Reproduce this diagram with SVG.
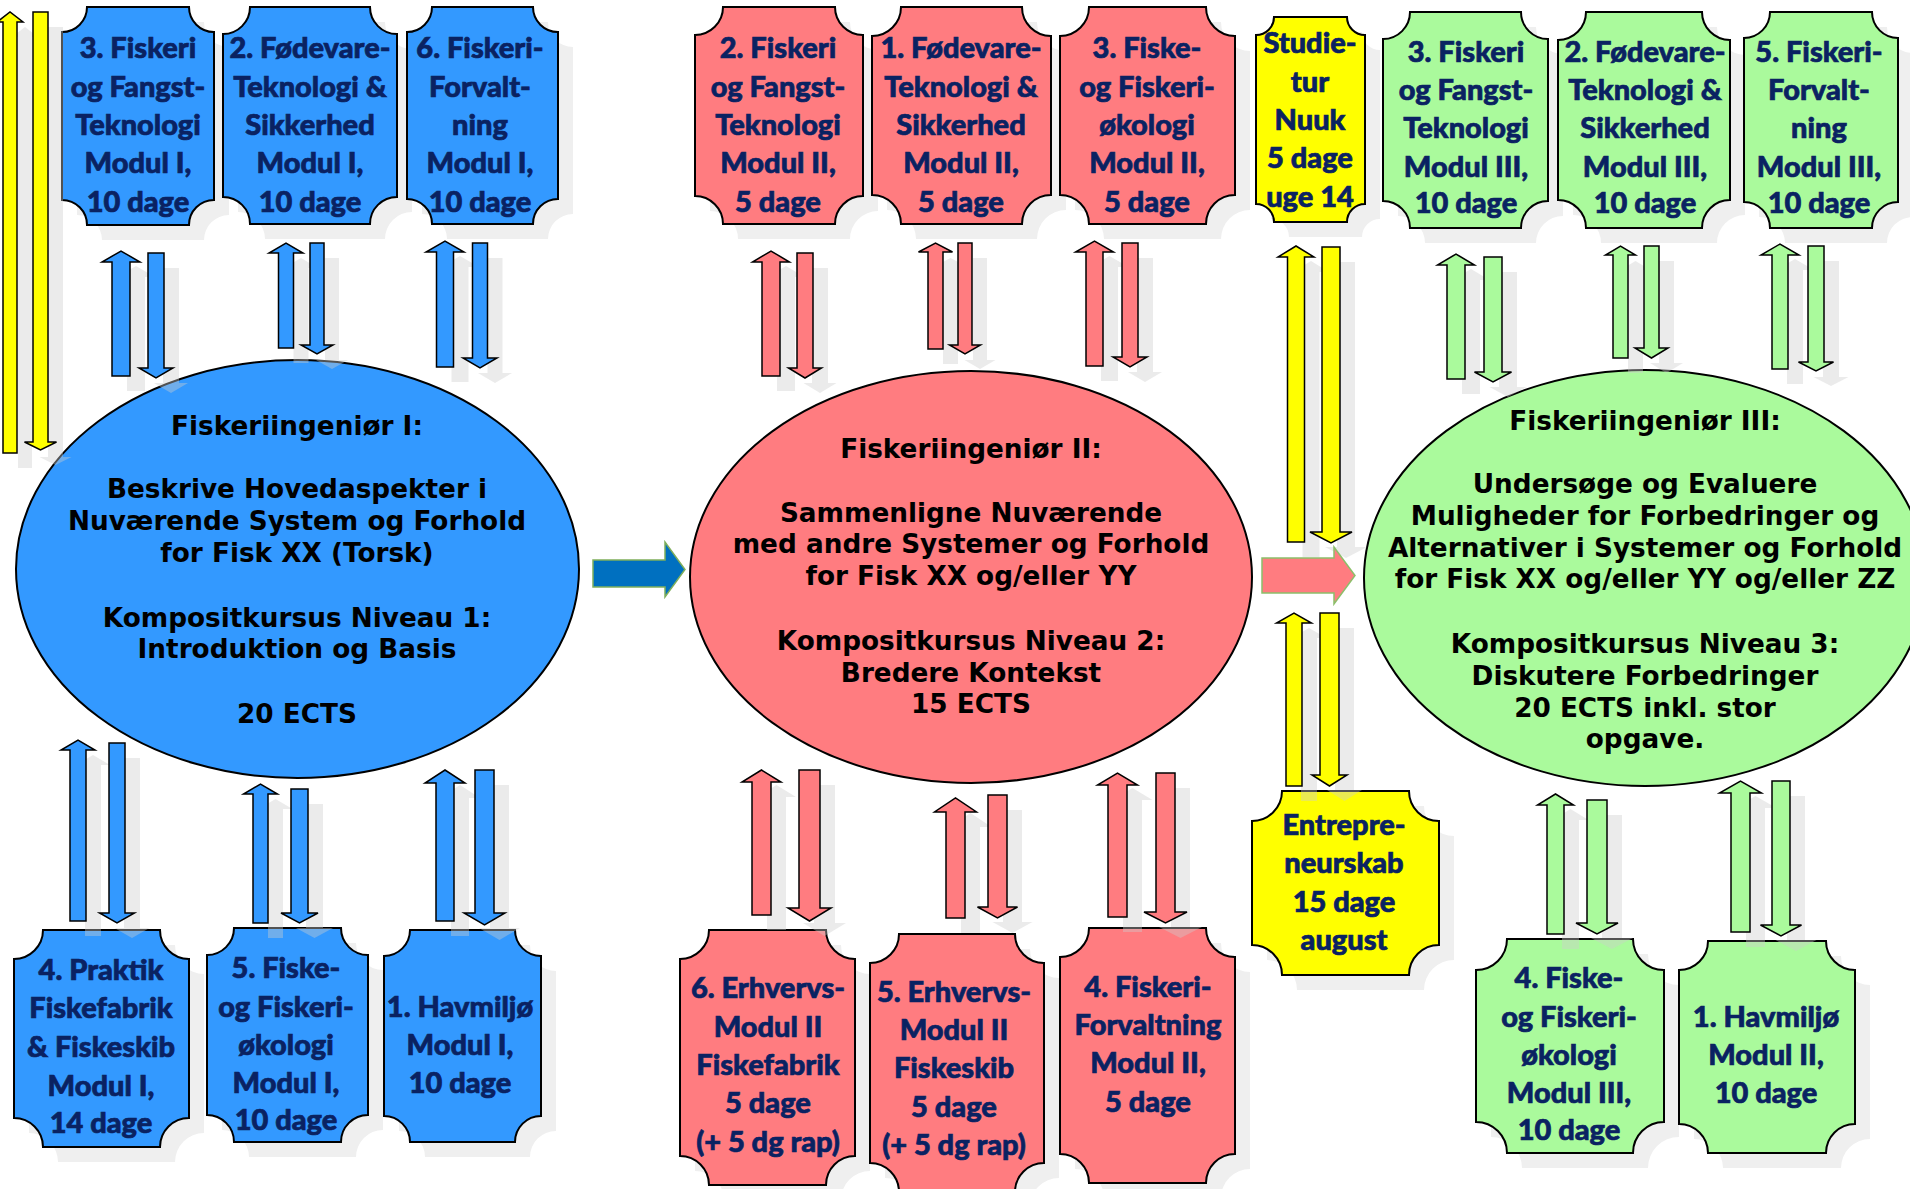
<svg xmlns="http://www.w3.org/2000/svg" width="1910" height="1189" viewBox="0 0 1910 1189">
<style>
.pb{fill:#3399ff;stroke:#000;stroke-width:2}
.pr{fill:#ff7c80;stroke:#000;stroke-width:2}
.pg{fill:#aafa9c;stroke:#000;stroke-width:2}
.py{fill:#ffff00;stroke:#000;stroke-width:2}
.sh{fill:#efefef}
.ash{fill:#cccccc;fill-opacity:0.4}
.ab{fill:#3399ff;stroke:#000;stroke-width:1.5}
.ar{fill:#ff7c80;stroke:#000;stroke-width:1.5}
.ag{fill:#aafa9c;stroke:#000;stroke-width:1.5}
.ay{fill:#ffff00;stroke:#000;stroke-width:1.5}
.pt{font-family:Lato,"Liberation Sans",sans-serif;font-weight:900;font-size:29px;fill:#0a2262;stroke:#0a2262;stroke-width:0.7;text-anchor:middle}
.et{font-family:"DejaVu Sans","Liberation Sans",sans-serif;font-weight:700;font-size:26.3px;fill:#000;text-anchor:middle}
</style>
<rect width="1910" height="1189" fill="#fff"/>

<g id="tb1">
<path class="sh" transform="translate(15,15)" d="M87,7 H189 A25,25 0 0 0 214,32 V200 A25,25 0 0 0 189,225 H87 A25,25 0 0 0 62,200 V32 A25,25 0 0 0 87,7 Z"/>
<path class="pb" d="M87,7 H189 A25,25 0 0 0 214,32 V200 A25,25 0 0 0 189,225 H87 A25,25 0 0 0 62,200 V32 A25,25 0 0 0 87,7 Z"/>
<text class="pt"><tspan x="138" y="58">3. Fiskeri</tspan><tspan x="138" y="97">og Fangst-</tspan><tspan x="138" y="135">Teknologi</tspan><tspan x="138" y="173">Modul I,</tspan><tspan x="138" y="212">10 dage</tspan></text>
</g>
<g id="tb2">
<path class="sh" transform="translate(15,15)" d="M250,7 H370 A27,27 0 0 0 397,34 V197 A27,27 0 0 0 370,224 H250 A27,27 0 0 0 223,197 V34 A27,27 0 0 0 250,7 Z"/>
<path class="pb" d="M250,7 H370 A27,27 0 0 0 397,34 V197 A27,27 0 0 0 370,224 H250 A27,27 0 0 0 223,197 V34 A27,27 0 0 0 250,7 Z"/>
<text class="pt"><tspan x="310" y="58">2. Fødevare-</tspan><tspan x="310" y="97">Teknologi &amp;</tspan><tspan x="310" y="135">Sikkerhed</tspan><tspan x="310" y="173">Modul I,</tspan><tspan x="310" y="212">10 dage</tspan></text>
</g>
<g id="tb3">
<path class="sh" transform="translate(15,15)" d="M432,7 H533 A25,25 0 0 0 558,32 V199 A25,25 0 0 0 533,224 H432 A25,25 0 0 0 407,199 V32 A25,25 0 0 0 432,7 Z"/>
<path class="pb" d="M432,7 H533 A25,25 0 0 0 558,32 V199 A25,25 0 0 0 533,224 H432 A25,25 0 0 0 407,199 V32 A25,25 0 0 0 432,7 Z"/>
<text class="pt"><tspan x="480" y="58">6. Fiskeri-</tspan><tspan x="480" y="97">Forvalt-</tspan><tspan x="480" y="135">ning</tspan><tspan x="480" y="173">Modul I,</tspan><tspan x="480" y="212">10 dage</tspan></text>
</g>

<g id="bb1">
<path class="sh" transform="translate(15,15)" d="M43,930 H160 A29,29 0 0 0 189,959 V1118 A29,29 0 0 0 160,1147 H43 A29,29 0 0 0 14,1118 V959 A29,29 0 0 0 43,930 Z"/>
<path class="pb" d="M43,930 H160 A29,29 0 0 0 189,959 V1118 A29,29 0 0 0 160,1147 H43 A29,29 0 0 0 14,1118 V959 A29,29 0 0 0 43,930 Z"/>
<text class="pt"><tspan x="101" y="980">4. Praktik</tspan><tspan x="101" y="1018">Fiskefabrik</tspan><tspan x="101" y="1057">&amp; Fiskeskib</tspan><tspan x="101" y="1096">Modul I,</tspan><tspan x="101" y="1133">14 dage</tspan></text>
</g>
<g id="bb2">
<path class="sh" transform="translate(15,15)" d="M234,928 H341 A27,27 0 0 0 368,955 V1115 A27,27 0 0 0 341,1142 H234 A27,27 0 0 0 207,1115 V955 A27,27 0 0 0 234,928 Z"/>
<path class="pb" d="M234,928 H341 A27,27 0 0 0 368,955 V1115 A27,27 0 0 0 341,1142 H234 A27,27 0 0 0 207,1115 V955 A27,27 0 0 0 234,928 Z"/>
<text class="pt"><tspan x="286" y="978">5. Fiske-</tspan><tspan x="286" y="1017">og Fiskeri-</tspan><tspan x="286" y="1055">økologi</tspan><tspan x="286" y="1093">Modul I,</tspan><tspan x="286" y="1130">10 dage</tspan></text>
</g>
<g id="bb3">
<path class="sh" transform="translate(15,15)" d="M410,930 H515 A26,26 0 0 0 541,956 V1116 A26,26 0 0 0 515,1142 H410 A26,26 0 0 0 384,1116 V956 A26,26 0 0 0 410,930 Z"/>
<path class="pb" d="M410,930 H515 A26,26 0 0 0 541,956 V1116 A26,26 0 0 0 515,1142 H410 A26,26 0 0 0 384,1116 V956 A26,26 0 0 0 410,930 Z"/>
<text class="pt"><tspan x="460" y="1017">1. Havmiljø</tspan><tspan x="460" y="1055">Modul I,</tspan><tspan x="460" y="1093">10 dage</tspan></text>
</g>

<g id="tr1">
<path class="sh" transform="translate(15,15)" d="M723,7 H835 A28,28 0 0 0 863,35 V196 A28,28 0 0 0 835,224 H723 A28,28 0 0 0 695,196 V35 A28,28 0 0 0 723,7 Z"/>
<path class="pr" d="M723,7 H835 A28,28 0 0 0 863,35 V196 A28,28 0 0 0 835,224 H723 A28,28 0 0 0 695,196 V35 A28,28 0 0 0 723,7 Z"/>
<text class="pt"><tspan x="778" y="58">2. Fiskeri</tspan><tspan x="778" y="97">og Fangst-</tspan><tspan x="778" y="135">Teknologi</tspan><tspan x="778" y="173">Modul II,</tspan><tspan x="778" y="212">5 dage</tspan></text>
</g>
<g id="tr2">
<path class="sh" transform="translate(15,15)" d="M901,7 H1022 A29,29 0 0 0 1051,36 V195 A29,29 0 0 0 1022,224 H901 A29,29 0 0 0 872,195 V36 A29,29 0 0 0 901,7 Z"/>
<path class="pr" d="M901,7 H1022 A29,29 0 0 0 1051,36 V195 A29,29 0 0 0 1022,224 H901 A29,29 0 0 0 872,195 V36 A29,29 0 0 0 901,7 Z"/>
<text class="pt"><tspan x="961" y="58">1. Fødevare-</tspan><tspan x="961" y="97">Teknologi &amp;</tspan><tspan x="961" y="135">Sikkerhed</tspan><tspan x="961" y="173">Modul II,</tspan><tspan x="961" y="212">5 dage</tspan></text>
</g>
<g id="tr3">
<path class="sh" transform="translate(15,15)" d="M1089,7 H1206 A29,29 0 0 0 1235,36 V195 A29,29 0 0 0 1206,224 H1089 A29,29 0 0 0 1060,195 V36 A29,29 0 0 0 1089,7 Z"/>
<path class="pr" d="M1089,7 H1206 A29,29 0 0 0 1235,36 V195 A29,29 0 0 0 1206,224 H1089 A29,29 0 0 0 1060,195 V36 A29,29 0 0 0 1089,7 Z"/>
<text class="pt"><tspan x="1147" y="58">3. Fiske-</tspan><tspan x="1147" y="97">og Fiskeri-</tspan><tspan x="1147" y="135">økologi</tspan><tspan x="1147" y="173">Modul II,</tspan><tspan x="1147" y="212">5 dage</tspan></text>
</g>

<g id="studietur">
<path class="sh" transform="translate(15,15)" d="M1274,17 H1347 A18,18 0 0 0 1365,35 V204 A18,18 0 0 0 1347,222 H1274 A18,18 0 0 0 1256,204 V35 A18,18 0 0 0 1274,17 Z"/>
<path class="py" d="M1274,17 H1347 A18,18 0 0 0 1365,35 V204 A18,18 0 0 0 1347,222 H1274 A18,18 0 0 0 1256,204 V35 A18,18 0 0 0 1274,17 Z"/>
<text class="pt"><tspan x="1310" y="53">Studie-</tspan><tspan x="1310" y="92">tur</tspan><tspan x="1310" y="130">Nuuk</tspan><tspan x="1310" y="168">5 dage</tspan><tspan x="1310" y="207">uge 14</tspan></text>
</g>

<g id="tg1">
<path class="sh" transform="translate(15,15)" d="M1410,12 H1521 A27,27 0 0 0 1548,39 V201 A27,27 0 0 0 1521,228 H1410 A27,27 0 0 0 1383,201 V39 A27,27 0 0 0 1410,12 Z"/>
<path class="pg" d="M1410,12 H1521 A27,27 0 0 0 1548,39 V201 A27,27 0 0 0 1521,228 H1410 A27,27 0 0 0 1383,201 V39 A27,27 0 0 0 1410,12 Z"/>
<text class="pt"><tspan x="1466" y="62">3. Fiskeri</tspan><tspan x="1466" y="100">og Fangst-</tspan><tspan x="1466" y="138">Teknologi</tspan><tspan x="1466" y="177">Modul III,</tspan><tspan x="1466" y="213">10 dage</tspan></text>
</g>
<g id="tg2">
<path class="sh" transform="translate(15,15)" d="M1586,12 H1702 A28,28 0 0 0 1730,40 V200 A28,28 0 0 0 1702,228 H1586 A28,28 0 0 0 1558,200 V40 A28,28 0 0 0 1586,12 Z"/>
<path class="pg" d="M1586,12 H1702 A28,28 0 0 0 1730,40 V200 A28,28 0 0 0 1702,228 H1586 A28,28 0 0 0 1558,200 V40 A28,28 0 0 0 1586,12 Z"/>
<text class="pt"><tspan x="1645" y="62">2. Fødevare-</tspan><tspan x="1645" y="100">Teknologi &amp;</tspan><tspan x="1645" y="138">Sikkerhed</tspan><tspan x="1645" y="177">Modul III,</tspan><tspan x="1645" y="213">10 dage</tspan></text>
</g>
<g id="tg3">
<path class="sh" transform="translate(15,15)" d="M1770,12 H1872 A26,26 0 0 0 1898,38 V202 A26,26 0 0 0 1872,228 H1770 A26,26 0 0 0 1744,202 V38 A26,26 0 0 0 1770,12 Z"/>
<path class="pg" d="M1770,12 H1872 A26,26 0 0 0 1898,38 V202 A26,26 0 0 0 1872,228 H1770 A26,26 0 0 0 1744,202 V38 A26,26 0 0 0 1770,12 Z"/>
<text class="pt"><tspan x="1819" y="62">5. Fiskeri-</tspan><tspan x="1819" y="100">Forvalt-</tspan><tspan x="1819" y="138">ning</tspan><tspan x="1819" y="177">Modul III,</tspan><tspan x="1819" y="213">10 dage</tspan></text>
</g>

<g id="br1">
<path class="sh" transform="translate(15,15)" d="M709,930 H826 A29,29 0 0 0 855,959 V1156 A29,29 0 0 0 826,1185 H709 A29,29 0 0 0 680,1156 V959 A29,29 0 0 0 709,930 Z"/>
<path class="pr" d="M709,930 H826 A29,29 0 0 0 855,959 V1156 A29,29 0 0 0 826,1185 H709 A29,29 0 0 0 680,1156 V959 A29,29 0 0 0 709,930 Z"/>
<text class="pt"><tspan x="768" y="998">6. Erhvervs-</tspan><tspan x="768" y="1037">Modul II</tspan><tspan x="768" y="1075">Fiskefabrik</tspan><tspan x="768" y="1113">5 dage</tspan><tspan x="768" y="1152">(+ 5 dg rap)</tspan></text>
</g>
<g id="br2">
<path class="sh" transform="translate(15,15)" d="M899,934 H1015 A29,29 0 0 0 1044,963 V1163 A29,29 0 0 0 1015,1192 H899 A29,29 0 0 0 870,1163 V963 A29,29 0 0 0 899,934 Z"/>
<path class="pr" d="M899,934 H1015 A29,29 0 0 0 1044,963 V1163 A29,29 0 0 0 1015,1192 H899 A29,29 0 0 0 870,1163 V963 A29,29 0 0 0 899,934 Z"/>
<text class="pt"><tspan x="954" y="1002">5. Erhvervs-</tspan><tspan x="954" y="1040">Modul II</tspan><tspan x="954" y="1078">Fiskeskib</tspan><tspan x="954" y="1117">5 dage</tspan><tspan x="954" y="1155">(+ 5 dg rap)</tspan></text>
</g>
<g id="br3">
<path class="sh" transform="translate(15,15)" d="M1089,928 H1206 A29,29 0 0 0 1235,957 V1154 A29,29 0 0 0 1206,1183 H1089 A29,29 0 0 0 1060,1154 V957 A29,29 0 0 0 1089,928 Z"/>
<path class="pr" d="M1089,928 H1206 A29,29 0 0 0 1235,957 V1154 A29,29 0 0 0 1206,1183 H1089 A29,29 0 0 0 1060,1154 V957 A29,29 0 0 0 1089,928 Z"/>
<text class="pt"><tspan x="1148" y="997">4. Fiskeri-</tspan><tspan x="1148" y="1035">Forvaltning</tspan><tspan x="1148" y="1073">Modul II,</tspan><tspan x="1148" y="1112">5 dage</tspan></text>
</g>

<g id="entrepreneurskab">
<path class="sh" transform="translate(15,15)" d="M1282,791 H1409 A30,30 0 0 0 1439,821 V945 A30,30 0 0 0 1409,975 H1282 A30,30 0 0 0 1252,945 V821 A30,30 0 0 0 1282,791 Z"/>
<path class="py" d="M1282,791 H1409 A30,30 0 0 0 1439,821 V945 A30,30 0 0 0 1409,975 H1282 A30,30 0 0 0 1252,945 V821 A30,30 0 0 0 1282,791 Z"/>
<text class="pt"><tspan x="1344" y="835">Entrepre-</tspan><tspan x="1344" y="873">neurskab</tspan><tspan x="1344" y="912">15 dage</tspan><tspan x="1344" y="950">august</tspan></text>
</g>

<g id="gb1">
<path class="sh" transform="translate(15,15)" d="M1507,939 H1633 A31,31 0 0 0 1664,970 V1122 A31,31 0 0 0 1633,1153 H1507 A31,31 0 0 0 1476,1122 V970 A31,31 0 0 0 1507,939 Z"/>
<path class="pg" d="M1507,939 H1633 A31,31 0 0 0 1664,970 V1122 A31,31 0 0 0 1633,1153 H1507 A31,31 0 0 0 1476,1122 V970 A31,31 0 0 0 1507,939 Z"/>
<text class="pt"><tspan x="1569" y="988">4. Fiske-</tspan><tspan x="1569" y="1027">og Fiskeri-</tspan><tspan x="1569" y="1065">økologi</tspan><tspan x="1569" y="1103">Modul III,</tspan><tspan x="1569" y="1140">10 dage</tspan></text>
</g>
<g id="gb2">
<path class="sh" transform="translate(15,15)" d="M1708,941 H1826 A29,29 0 0 0 1855,970 V1124 A29,29 0 0 0 1826,1153 H1708 A29,29 0 0 0 1679,1124 V970 A29,29 0 0 0 1708,941 Z"/>
<path class="pg" d="M1708,941 H1826 A29,29 0 0 0 1855,970 V1124 A29,29 0 0 0 1826,1153 H1708 A29,29 0 0 0 1679,1124 V970 A29,29 0 0 0 1708,941 Z"/>
<text class="pt"><tspan x="1766" y="1027">1. Havmiljø</tspan><tspan x="1766" y="1065">Modul II,</tspan><tspan x="1766" y="1103">10 dage</tspan></text>
</g>

<g id="fisk1">
<ellipse cx="297.5" cy="569" rx="281.5" ry="209" fill="#3399ff" stroke="#000" stroke-width="2"/>
<text class="et"><tspan x="297" y="435">Fiskeriingeniør I:</tspan><tspan x="297" y="498">Beskrive Hovedaspekter i</tspan><tspan x="297" y="530">Nuværende System og Forhold</tspan><tspan x="297" y="562">for Fisk XX (Torsk)</tspan><tspan x="297" y="627">Kompositkursus Niveau 1:</tspan><tspan x="297" y="658">Introduktion og Basis</tspan><tspan x="297" y="723">20 ECTS</tspan></text>
</g>
<g id="fisk2">
<ellipse cx="971" cy="577" rx="281" ry="206" fill="#ff7c80" stroke="#000" stroke-width="2"/>
<text class="et"><tspan x="971" y="458">Fiskeriingeniør II:</tspan><tspan x="971" y="522">Sammenligne Nuværende</tspan><tspan x="971" y="553">med andre Systemer og Forhold</tspan><tspan x="971" y="585">for Fisk XX og/eller YY</tspan><tspan x="971" y="650">Kompositkursus Niveau 2:</tspan><tspan x="971" y="682">Bredere Kontekst</tspan><tspan x="971" y="713">15 ECTS</tspan></text>
</g>
<g id="fisk3">
<ellipse cx="1645" cy="578" rx="281" ry="208" fill="#aafa9c" stroke="#000" stroke-width="2"/>
<text class="et"><tspan x="1645" y="430">Fiskeriingeniør III:</tspan><tspan x="1645" y="493">Undersøge og Evaluere</tspan><tspan x="1645" y="525">Muligheder for Forbedringer og</tspan><tspan x="1645" y="557">Alternativer i Systemer og Forhold</tspan><tspan x="1645" y="588">for Fisk XX og/eller YY og/eller ZZ</tspan><tspan x="1645" y="653">Kompositkursus Niveau 3:</tspan><tspan x="1645" y="685">Diskutere Forbedringer</tspan><tspan x="1645" y="717">20 ECTS inkl. stor</tspan><tspan x="1645" y="748">opgave.</tspan></text>
</g>

<g id="connectors">
<g id="arrow-shadows" class="ash" transform="translate(15,15)">
<path d="M112,376 V262 H102 L121,251 L140,262 H130 V376 Z"/>
<path d="M148,253 H164 V368 H173 L156,378 L139,368 H148 Z"/>
<path d="M278.5,348 V253 H269 L286,243 L303,253 H293.5 V348 Z"/>
<path d="M310,243 H324 V345 H333 L317,354 L301,345 H310 Z"/>
<path d="M436.5,367 V252 H426 L445,241 L464,252 H453.5 V367 Z"/>
<path d="M472.5,243 H487.5 V358 H497 L480,368 L463,358 H472.5 Z"/>
<path d="M70,921 V750 H61 L78,740 L95,750 H86 V921 Z"/>
<path d="M109,743 H125 V913 H134.5 L117,923 L99.5,913 H109 Z"/>
<path d="M253,923 V794 H243.5 L260.5,784 L277.5,794 H268 V923 Z"/>
<path d="M291,789 H308 V913 H318 L299.5,923 L281,913 H291 Z"/>
<path d="M436,921 V783 H425 L445,770 L465,783 H454 V921 Z"/>
<path d="M475,770 H494 V913 H505 L484.5,925 L464,913 H475 Z"/>
<path d="M762,376 V262 H752.5 L771,251 L789.5,262 H780 V376 Z"/>
<path d="M797,253 H813 V368 H821.5 L805,378 L788.5,368 H797 Z"/>
<path d="M928,349 V252 H918.5 L935.5,243 L952.5,252 H943 V349 Z"/>
<path d="M958,243 H972 V345 H980.5 L965,354 L949.5,345 H958 Z"/>
<path d="M1086,366 V252 H1075.5 L1094.5,241 L1113.5,252 H1103 V366 Z"/>
<path d="M1122,243 H1138 V357 H1147 L1130,367 L1113,357 H1122 Z"/>
<path d="M752,915 V782 H742 L761.5,770 L781,782 H771 V915 Z"/>
<path d="M799,770 H820 V908 H831 L809.5,921 L788,908 H799 Z"/>
<path d="M946,918 V812 H934.5 L955.5,798 L976.5,812 H965 V918 Z"/>
<path d="M988,795 H1007 V907 H1017.5 L997.5,918 L977.5,907 H988 Z"/>
<path d="M1108,917 V785 H1097.5 L1117.5,773 L1137.5,785 H1127 V917 Z"/>
<path d="M1156,773 H1175 V912 H1187 L1165.5,923 L1144,912 H1156 Z"/>
<path d="M1447,379 V265 H1437.5 L1456,254 L1474.5,265 H1465 V379 Z"/>
<path d="M1484,257 H1502 V372 H1511.5 L1493,382 L1474.5,372 H1484 Z"/>
<path d="M1613,358 V255 H1605.5 L1620.5,246 L1635.5,255 H1628 V358 Z"/>
<path d="M1644,246 H1659 V348 H1668 L1651.5,358 L1635,348 H1644 Z"/>
<path d="M1772,369 V255 H1761 L1780,244 L1799,255 H1788 V369 Z"/>
<path d="M1808,246 H1824 V362 H1833.5 L1816,371 L1798.5,362 H1808 Z"/>
<path d="M1547,934 V805 H1537.5 L1555.5,794 L1573.5,805 H1564 V934 Z"/>
<path d="M1587,800 H1607 V923 H1618 L1597,934 L1576,923 H1587 Z"/>
<path d="M1731,932 V793 H1719.5 L1740.5,781 L1761.5,793 H1750 V932 Z"/>
<path d="M1772,781 H1790 V925 H1801.5 L1781,936 L1760.5,925 H1772 Z"/>
<path d="M3,453 V22 H-3 L10,12 L23,22 H17 V453 Z"/>
<path d="M33,12 H48 V442 H56.5 L40.5,450 L24.5,442 H33 Z"/>
<path d="M1287.5,542 V257 H1278 L1296,246 L1314,257 H1304.5 V542 Z"/>
<path d="M1322,247 H1340 V532 H1352 L1331,543 L1310,532 H1322 Z"/>
<path d="M1286,786 V623 H1276.5 L1294,613 L1311.5,623 H1302 V786 Z"/>
<path d="M1320,613 H1339 V775 H1347 L1329.5,786 L1312,775 H1320 Z"/>
</g>
<g id="arrows-blue" class="ab">
<path d="M112,376 V262 H102 L121,251 L140,262 H130 V376 Z"/>
<path d="M148,253 H164 V368 H173 L156,378 L139,368 H148 Z"/>
<path d="M278.5,348 V253 H269 L286,243 L303,253 H293.5 V348 Z"/>
<path d="M310,243 H324 V345 H333 L317,354 L301,345 H310 Z"/>
<path d="M436.5,367 V252 H426 L445,241 L464,252 H453.5 V367 Z"/>
<path d="M472.5,243 H487.5 V358 H497 L480,368 L463,358 H472.5 Z"/>
<path d="M70,921 V750 H61 L78,740 L95,750 H86 V921 Z"/>
<path d="M109,743 H125 V913 H134.5 L117,923 L99.5,913 H109 Z"/>
<path d="M253,923 V794 H243.5 L260.5,784 L277.5,794 H268 V923 Z"/>
<path d="M291,789 H308 V913 H318 L299.5,923 L281,913 H291 Z"/>
<path d="M436,921 V783 H425 L445,770 L465,783 H454 V921 Z"/>
<path d="M475,770 H494 V913 H505 L484.5,925 L464,913 H475 Z"/>
</g>
<g id="arrows-red" class="ar">
<path d="M762,376 V262 H752.5 L771,251 L789.5,262 H780 V376 Z"/>
<path d="M797,253 H813 V368 H821.5 L805,378 L788.5,368 H797 Z"/>
<path d="M928,349 V252 H918.5 L935.5,243 L952.5,252 H943 V349 Z"/>
<path d="M958,243 H972 V345 H980.5 L965,354 L949.5,345 H958 Z"/>
<path d="M1086,366 V252 H1075.5 L1094.5,241 L1113.5,252 H1103 V366 Z"/>
<path d="M1122,243 H1138 V357 H1147 L1130,367 L1113,357 H1122 Z"/>
<path d="M752,915 V782 H742 L761.5,770 L781,782 H771 V915 Z"/>
<path d="M799,770 H820 V908 H831 L809.5,921 L788,908 H799 Z"/>
<path d="M946,918 V812 H934.5 L955.5,798 L976.5,812 H965 V918 Z"/>
<path d="M988,795 H1007 V907 H1017.5 L997.5,918 L977.5,907 H988 Z"/>
<path d="M1108,917 V785 H1097.5 L1117.5,773 L1137.5,785 H1127 V917 Z"/>
<path d="M1156,773 H1175 V912 H1187 L1165.5,923 L1144,912 H1156 Z"/>
</g>
<g id="arrows-green" class="ag">
<path d="M1447,379 V265 H1437.5 L1456,254 L1474.5,265 H1465 V379 Z"/>
<path d="M1484,257 H1502 V372 H1511.5 L1493,382 L1474.5,372 H1484 Z"/>
<path d="M1613,358 V255 H1605.5 L1620.5,246 L1635.5,255 H1628 V358 Z"/>
<path d="M1644,246 H1659 V348 H1668 L1651.5,358 L1635,348 H1644 Z"/>
<path d="M1772,369 V255 H1761 L1780,244 L1799,255 H1788 V369 Z"/>
<path d="M1808,246 H1824 V362 H1833.5 L1816,371 L1798.5,362 H1808 Z"/>
<path d="M1547,934 V805 H1537.5 L1555.5,794 L1573.5,805 H1564 V934 Z"/>
<path d="M1587,800 H1607 V923 H1618 L1597,934 L1576,923 H1587 Z"/>
<path d="M1731,932 V793 H1719.5 L1740.5,781 L1761.5,793 H1750 V932 Z"/>
<path d="M1772,781 H1790 V925 H1801.5 L1781,936 L1760.5,925 H1772 Z"/>
</g>
<g id="arrows-yellow" class="ay">
<path d="M3,453 V22 H-3 L10,12 L23,22 H17 V453 Z"/>
<path d="M33,12 H48 V442 H56.5 L40.5,450 L24.5,442 H33 Z"/>
<path d="M1287.5,542 V257 H1278 L1296,246 L1314,257 H1304.5 V542 Z"/>
<path d="M1322,247 H1340 V532 H1352 L1331,543 L1310,532 H1322 Z"/>
<path d="M1286,786 V623 H1276.5 L1294,613 L1311.5,623 H1302 V786 Z"/>
<path d="M1320,613 H1339 V775 H1347 L1329.5,786 L1312,775 H1320 Z"/>
</g>
<path id="arrow-1-2" d="M593,560 H665 V542 L685,569.5 L665,597 V587 H593 Z" fill="#0070c0" stroke="#7fae5b" stroke-width="1.5"/>
<path id="arrow-2-3" d="M1262,558 H1334 V547 L1355,575.5 L1334,604 V593 H1262 Z" fill="#ff7c80" stroke="#8cbf6a" stroke-width="1.5"/>
</g>
</svg>
